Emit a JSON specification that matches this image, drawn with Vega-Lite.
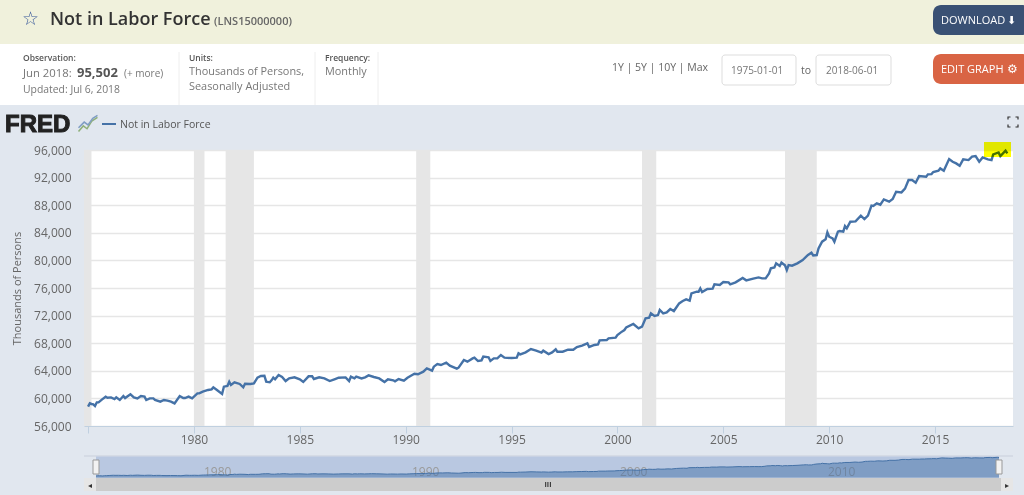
{"$schema":"https://vega.github.io/schema/vega-lite/v6.json","autosize":"none","width":929,"height":276,"padding":{"left":84,"top":150,"right":11,"bottom":69},"background":"#e1e7ef","view":{"fill":"#ffffff","stroke":null},"config":{"font":"Open Sans","text":{"font":"Open Sans","align":"left","baseline":"alphabetic"}},
"datasets":{"series":[
{"date":"1975-01","value":58800},{"date":"1975-02","value":59280},{"date":"1975-03","value":59190},{"date":"1975-04","value":59140},{"date":"1975-05","value":58900},{"date":"1975-06","value":59430},{"date":"1975-07","value":59430},{"date":"1975-09","value":59860},{"date":"1975-11","value":60250},{"date":"1975-12","value":60100},
{"date":"1976-02","value":60150},{"date":"1976-04","value":59910},{"date":"1976-05","value":60150},{"date":"1976-07","value":59770},{"date":"1976-09","value":60350},{"date":"1976-10","value":60050},
{"date":"1977-01","value":60590},{"date":"1977-03","value":60150},{"date":"1977-05","value":60000},{"date":"1977-07","value":60350},{"date":"1977-09","value":60250},{"date":"1977-10","value":59770},{"date":"1977-12","value":60000},
{"date":"1978-02","value":60000},{"date":"1978-03","value":59770},{"date":"1978-06","value":59530},{"date":"1978-08","value":59770},{"date":"1978-10","value":59670},{"date":"1978-12","value":59530},
{"date":"1979-02","value":59280},{"date":"1979-05","value":60350},{"date":"1979-07","value":60050},{"date":"1979-08","value":60050},{"date":"1979-10","value":60250},{"date":"1979-12","value":60000},
{"date":"1980-03","value":60730},{"date":"1980-04","value":60730},{"date":"1980-06","value":60970},{"date":"1980-09","value":61220},{"date":"1980-11","value":61310},{"date":"1980-12","value":61600},
{"date":"1981-02","value":61220},{"date":"1981-05","value":60640},{"date":"1981-06","value":61700},{"date":"1981-08","value":61800},{"date":"1981-09","value":62420},{"date":"1981-10","value":61940},{"date":"1981-12","value":62330},
{"date":"1982-03","value":62090},{"date":"1982-05","value":61600},{"date":"1982-06","value":62130},{"date":"1982-09","value":62090},{"date":"1982-11","value":62180},
{"date":"1983-01","value":63000},{"date":"1983-03","value":63245},{"date":"1983-05","value":63290},{"date":"1983-06","value":62420},{"date":"1983-08","value":62330},{"date":"1983-09","value":62620},{"date":"1983-10","value":63000},{"date":"1983-11","value":62760},
{"date":"1984-01","value":63390},{"date":"1984-03","value":63100},{"date":"1984-05","value":62520},{"date":"1984-07","value":62900},{"date":"1984-10","value":63050},
{"date":"1985-01","value":62760},{"date":"1985-03","value":62380},{"date":"1985-06","value":63200},{"date":"1985-08","value":63200},{"date":"1985-09","value":62810},{"date":"1985-12","value":63050},
{"date":"1986-03","value":62900},{"date":"1986-06","value":62520},{"date":"1986-09","value":62810},{"date":"1986-11","value":63000},
{"date":"1987-03","value":63050},{"date":"1987-05","value":62520},{"date":"1987-06","value":63150},{"date":"1987-08","value":62900},{"date":"1987-09","value":63150},{"date":"1987-12","value":62900},
{"date":"1988-02","value":63050},{"date":"1988-04","value":63340},{"date":"1988-07","value":63100},{"date":"1988-10","value":62900},
{"date":"1989-01","value":62380},{"date":"1989-03","value":62760},{"date":"1989-06","value":62620},{"date":"1989-07","value":62470},{"date":"1989-09","value":62810},{"date":"1989-12","value":62570},
{"date":"1990-02","value":63000},{"date":"1990-04","value":63290},{"date":"1990-06","value":63580},{"date":"1990-08","value":63500},{"date":"1990-11","value":63870},
{"date":"1991-01","value":64360},{"date":"1991-04","value":64020},{"date":"1991-05","value":64600},{"date":"1991-07","value":64980},{"date":"1991-09","value":64840},{"date":"1991-12","value":65180},
{"date":"1992-02","value":64740},{"date":"1992-06","value":64310},{"date":"1992-07","value":64450},{"date":"1992-10","value":65560},{"date":"1992-12","value":65320},
{"date":"1993-03","value":65800},{"date":"1993-04","value":65900},{"date":"1993-06","value":65420},{"date":"1993-08","value":65510},{"date":"1993-09","value":66050},{"date":"1993-12","value":65950},
{"date":"1994-01","value":65420},{"date":"1994-03","value":65800},{"date":"1994-05","value":65800},{"date":"1994-07","value":66290},{"date":"1994-09","value":65900},
{"date":"1995-01","value":65850},{"date":"1995-04","value":65900},{"date":"1995-05","value":66530},{"date":"1995-06","value":66380},{"date":"1995-09","value":66670},{"date":"1995-12","value":67160},
{"date":"1996-03","value":66920},{"date":"1996-06","value":66630},{"date":"1996-07","value":66920},{"date":"1996-10","value":66430},{"date":"1996-12","value":66670},
{"date":"1997-02","value":67110},{"date":"1997-03","value":66770},{"date":"1997-06","value":66770},{"date":"1997-09","value":67060},{"date":"1997-12","value":67060},
{"date":"1998-02","value":67450},{"date":"1998-05","value":67640},{"date":"1998-08","value":67980},{"date":"1998-09","value":67450},{"date":"1998-12","value":67740},
{"date":"1999-02","value":67830},{"date":"1999-03","value":68410},{"date":"1999-07","value":68460},{"date":"1999-08","value":68700},{"date":"1999-12","value":68800},
{"date":"2000-01","value":69190},{"date":"2000-03","value":69570},{"date":"2000-05","value":69910},{"date":"2000-06","value":70300},{"date":"2000-10","value":70780},
{"date":"2001-01","value":70150},{"date":"2001-03","value":70400},{"date":"2001-05","value":71600},{"date":"2001-07","value":71700},{"date":"2001-08","value":72320},{"date":"2001-10","value":71940},{"date":"2001-12","value":72080},
{"date":"2002-01","value":72810},{"date":"2002-03","value":72320},{"date":"2002-05","value":72470},{"date":"2002-07","value":72950},{"date":"2002-09","value":72660},{"date":"2002-12","value":73770},
{"date":"2003-02","value":74110},{"date":"2003-04","value":74350},{"date":"2003-06","value":74160},{"date":"2003-07","value":75220},{"date":"2003-10","value":75460},{"date":"2003-11","value":75460},{"date":"2003-12","value":75950},
{"date":"2004-01","value":75420},{"date":"2004-04","value":75850},{"date":"2004-07","value":75900},{"date":"2004-08","value":76530},{"date":"2004-11","value":76430},
{"date":"2005-01","value":76870},{"date":"2005-04","value":76820},{"date":"2005-05","value":76530},{"date":"2005-08","value":76820},{"date":"2005-12","value":77450},
{"date":"2006-02","value":77110},{"date":"2006-06","value":77350},{"date":"2006-09","value":77540},{"date":"2006-11","value":77400},
{"date":"2007-01","value":77400},{"date":"2007-03","value":78120},{"date":"2007-04","value":78850},{"date":"2007-06","value":78990},{"date":"2007-07","value":79570},{"date":"2007-09","value":79180},{"date":"2007-10","value":79670},{"date":"2007-12","value":79280},
{"date":"2008-01","value":78600},{"date":"2008-02","value":79330},{"date":"2008-04","value":79230},{"date":"2008-07","value":79570},{"date":"2008-10","value":80050},
{"date":"2009-01","value":80800},{"date":"2009-03","value":81115},{"date":"2009-04","value":80730},{"date":"2009-06","value":80780},{"date":"2009-07","value":81740},{"date":"2009-09","value":82710},{"date":"2009-11","value":83050},{"date":"2009-12","value":84060},
{"date":"2010-01","value":83430},{"date":"2010-03","value":83190},{"date":"2010-04","value":82710},{"date":"2010-06","value":84160},{"date":"2010-07","value":84250},{"date":"2010-09","value":84160},{"date":"2010-10","value":84980},{"date":"2010-11","value":84640},
{"date":"2011-01","value":85610},{"date":"2011-04","value":85660},{"date":"2011-07","value":86480},{"date":"2011-09","value":85990},{"date":"2011-11","value":86480},
{"date":"2012-01","value":87930},{"date":"2012-02","value":87880},{"date":"2012-04","value":88260},{"date":"2012-06","value":88070},{"date":"2012-08","value":88840},{"date":"2012-11","value":88510},
{"date":"2013-01","value":88890},{"date":"2013-03","value":89950},{"date":"2013-06","value":89860},{"date":"2013-08","value":90400},{"date":"2013-10","value":91645},{"date":"2013-12","value":91645},
{"date":"2014-02","value":91260},{"date":"2014-04","value":92220},{"date":"2014-08","value":92130},{"date":"2014-09","value":92470},{"date":"2014-11","value":92510},{"date":"2014-12","value":92800},
{"date":"2015-03","value":93000},{"date":"2015-04","value":93330},{"date":"2015-06","value":93000},{"date":"2015-09","value":94690},{"date":"2015-11","value":94300},
{"date":"2016-01","value":94060},{"date":"2016-03","value":93720},{"date":"2016-05","value":94640},{"date":"2016-08","value":94540},{"date":"2016-10","value":95030},{"date":"2016-12","value":95120},
{"date":"2017-02","value":94300},{"date":"2017-04","value":94930},{"date":"2017-07","value":94640},{"date":"2017-09","value":94540},{"date":"2017-10","value":95370},
{"date":"2018-01","value":95650},{"date":"2018-02","value":95120},{"date":"2018-05","value":95900},{"date":"2018-06","value":95502}
],
"recessions":[{"start":"1974-10-23","end":"1975-03-01"},{"start":"1980-01-01","end":"1980-07-01"},{"start":"1981-07-01","end":"1982-11-01"},{"start":"1990-07-01","end":"1991-03-01"},{"start":"2001-03-01","end":"2001-11-01"},{"start":"2007-12-01","end":"2009-06-01"}]},
"resolve":{"scale":{"x":"independent","y":"independent"},"axis":{"x":"independent","y":"independent"}},
"layer":[
{"data":{"values":[{"label":""}]},"layer":[
{"mark":{"type":"rect","color":"#f0f1dc"},"encoding":{"x":{"datum":0,"axis":null,"scale":{"domain":[0,1024],"range":[-84,940],"nice":false,"zero":false}},"x2":{"datum":1024},"y":{"datum":0,"axis":null,"scale":{"domain":[0,495],"range":[-150,345],"nice":false,"zero":false}},"y2":{"datum":44}}},
{"mark":{"type":"rect","color":"#ffffff"},"encoding":{"x":{"datum":0,"axis":null},"x2":{"datum":1024},"y":{"datum":44,"axis":null},"y2":{"datum":105}}},
{"mark":{"type":"rule","color":"#eeeeee"},"encoding":{"x":{"datum":179,"axis":null},"y":{"datum":52,"axis":null},"y2":{"datum":105}}},
{"mark":{"type":"rule","color":"#eeeeee"},"encoding":{"x":{"datum":315,"axis":null},"y":{"datum":52,"axis":null},"y2":{"datum":105}}},
{"mark":{"type":"rule","color":"#eeeeee"},"encoding":{"x":{"datum":378,"axis":null},"y":{"datum":52,"axis":null},"y2":{"datum":105}}},
{"mark":{"type":"rect","color":"#3a5174","cornerRadius":8},"encoding":{"x":{"datum":933,"axis":null},"x2":{"datum":1030},"y":{"datum":5,"axis":null},"y2":{"datum":35}}},
{"mark":{"type":"rect","color":"#d96444","cornerRadius":8},"encoding":{"x":{"datum":933,"axis":null},"x2":{"datum":1030},"y":{"datum":54,"axis":null},"y2":{"datum":84}}},
{"mark":{"type":"rect","color":"#ffffff","stroke":"#dddddd","cornerRadius":3},"encoding":{"x":{"datum":722,"axis":null},"x2":{"datum":796},"y":{"datum":55,"axis":null},"y2":{"datum":85}}},
{"mark":{"type":"rect","color":"#ffffff","stroke":"#dddddd","cornerRadius":3},"encoding":{"x":{"datum":816,"axis":null},"x2":{"datum":891},"y":{"datum":55,"axis":null},"y2":{"datum":85}}},
{"mark":{"type":"rule","color":"#4572a7","strokeWidth":2},"encoding":{"x":{"datum":102,"axis":null},"x2":{"datum":116},"y":{"datum":124,"axis":null}}},
{"mark":{"type":"point","shape":"M-1,0.8L-0.5,0.2L-0.1,0.5L0.4,-0.3L1,-0.7","filled":false,"stroke":"#8fb07a","strokeWidth":1.5,"size":360,"opacity":1},"encoding":{"x":{"datum":88,"axis":null},"y":{"datum":124,"axis":null}}},
{"mark":{"type":"point","shape":"M-1,0.4L-0.4,-0.2L0,0.1L0.5,-0.6L1,-0.9","filled":false,"stroke":"#7f9dc4","strokeWidth":1.5,"size":360,"opacity":1},"encoding":{"x":{"datum":88,"axis":null},"y":{"datum":124,"axis":null}}},
{"mark":{"type":"point","shape":"M-1,-0.5V-1H-0.5M0.5,-1H1V-0.5M1,0.5V1H0.5M-0.5,1H-1V0.5","filled":false,"stroke":"#333333","strokeWidth":1.2,"size":100,"opacity":1},"encoding":{"x":{"datum":1013,"axis":null},"y":{"datum":122,"axis":null}}},
{"mark":{"type":"rect","color":"#c0c8d4","opacity":0.7},"encoding":{"x":{"datum":84,"axis":null},"x2":{"datum":1013},"y":{"datum":455.5,"axis":null},"y2":{"datum":456.5}}},
{"mark":{"type":"rect","color":"#b9c8e1"},"encoding":{"x":{"datum":96,"axis":null},"x2":{"datum":999},"y":{"datum":456.5,"axis":null},"y2":{"datum":478}}},
{"mark":{"type":"rect","color":"#cccccc"},"encoding":{"x":{"datum":84,"axis":null},"x2":{"datum":1013},"y":{"datum":478,"axis":null},"y2":{"datum":491}}},
{"mark":{"type":"rect","color":"#e6e6e6"},"encoding":{"x":{"datum":84,"axis":null},"x2":{"datum":96},"y":{"datum":478,"axis":null},"y2":{"datum":491}}},
{"mark":{"type":"rect","color":"#e6e6e6"},"encoding":{"x":{"datum":1001,"axis":null},"x2":{"datum":1013},"y":{"datum":478,"axis":null},"y2":{"datum":491}}}
]},
{"data":{"name":"series"},"layer":[
{"data":{"name":"recessions"},"mark":{"type":"rect","color":"#e6e6e6"},"encoding":{"x":{"field":"start","type":"temporal","scale":{"type":"utc","domain":["1974-10-23","2018-09-07"],"nice":false},"axis":{"title":null,"grid":false,"tickCount":{"interval":"year","step":5},"format":"%Y","formatType":"utc","labelExpr":"utcyear(datum.value)==1975?'':utcFormat(datum.value,'%Y')","tickColor":"#c0d0e0","tickSize":7,"domainColor":"#c0d0e0","labelColor":"#666666","labelFontSize":12,"labelPadding":1,"labelFont":"Open Sans"}},"x2":{"field":"end"}}},
{"mark":{"type":"line","color":"#4572a7","strokeWidth":2.4},"encoding":{"x":{"field":"date","type":"temporal"},"y":{"field":"value","type":"quantitative","scale":{"domain":[56000,96000],"nice":false,"zero":false},"axis":{"title":"Thousands of Persons","titleFontWeight":"normal","titleColor":"#666666","titleFontSize":11,"titleFont":"Open Sans","titleX":-62,"titleY":138,"values":[56000,60000,64000,68000,72000,76000,80000,84000,88000,92000,96000],"format":",d","grid":true,"gridColor":"#e6e6e6","gridWidth":1.5,"ticks":false,"domain":false,"labelColor":"#666666","labelFontSize":12,"labelPadding":13,"labelFont":"Open Sans"}}}}
]},
{"data":{"values":[{"label":""}]},"layer":[
{"mark":{"type":"rect","color":"#ffff00","blend":"multiply"},"encoding":{"x":{"datum":984,"axis":null,"scale":{"domain":[0,1024],"range":[-84,940],"nice":false,"zero":false}},"x2":{"datum":1011},"y":{"datum":142,"axis":null,"scale":{"domain":[0,495],"range":[-150,345],"nice":false,"zero":false}},"y2":{"datum":157}}},
{"data":{"values":[{"label":"☆"}]},"mark":{"type":"text","font":"DejaVu Sans","fontSize":19,"fontWeight":"bold","color":"#3a5a9a"},"encoding":{"x":{"datum":22,"axis":null},"y":{"datum":25,"axis":null},"text":{"field":"label"}}},
{"data":{"values":[{"label":"Not in Labor Force"}]},"mark":{"type":"text","fontSize":18,"fontWeight":600,"color":"#333333"},"encoding":{"x":{"datum":50,"axis":null},"y":{"datum":25,"axis":null},"text":{"field":"label"}}},
{"data":{"values":[{"label":"(LNS15000000)"}]},"mark":{"type":"text","fontSize":11,"fontWeight":600,"color":"#666666"},"encoding":{"x":{"datum":214,"axis":null},"y":{"datum":25,"axis":null},"text":{"field":"label"}}},
{"data":{"values":[{"label":"DOWNLOAD"}]},"mark":{"type":"text","fontSize":11,"color":"#ffffff"},"encoding":{"x":{"datum":941,"axis":null},"y":{"datum":24,"axis":null},"text":{"field":"label"}}},
{"data":{"values":[{"label":"⬇"}]},"mark":{"type":"text","font":"DejaVu Sans","fontSize":11,"color":"#ffffff"},"encoding":{"x":{"datum":1007,"axis":null},"y":{"datum":24,"axis":null},"text":{"field":"label"}}},
{"data":{"values":[{"label":"EDIT GRAPH"}]},"mark":{"type":"text","fontSize":11,"color":"#ffffff"},"encoding":{"x":{"datum":941,"axis":null},"y":{"datum":73,"axis":null},"text":{"field":"label"}}},
{"data":{"values":[{"label":"⚙"}]},"mark":{"type":"text","font":"DejaVu Sans","fontSize":12,"color":"#ffffff"},"encoding":{"x":{"datum":1007,"axis":null},"y":{"datum":73,"axis":null},"text":{"field":"label"}}},
{"data":{"values":[{"label":"Observation:"}]},"mark":{"type":"text","fontSize":8.5,"fontWeight":600,"color":"#555555"},"encoding":{"x":{"datum":23,"axis":null},"y":{"datum":61,"axis":null},"text":{"field":"label"}}},
{"data":{"values":[{"label":"Jun 2018:"}]},"mark":{"type":"text","fontSize":11.3,"color":"#777777"},"encoding":{"x":{"datum":23,"axis":null},"y":{"datum":77,"axis":null},"text":{"field":"label"}}},
{"data":{"values":[{"label":"95,502"}]},"mark":{"type":"text","fontSize":13,"fontWeight":700,"color":"#555555"},"encoding":{"x":{"datum":77,"axis":null},"y":{"datum":77,"axis":null},"text":{"field":"label"}}},
{"data":{"values":[{"label":"(+ more)"}]},"mark":{"type":"text","fontSize":10,"color":"#777777"},"encoding":{"x":{"datum":124,"axis":null},"y":{"datum":77,"axis":null},"text":{"field":"label"}}},
{"data":{"values":[{"label":"Updated: Jul 6, 2018"}]},"mark":{"type":"text","fontSize":10.4,"color":"#777777"},"encoding":{"x":{"datum":23,"axis":null},"y":{"datum":93,"axis":null},"text":{"field":"label"}}},
{"data":{"values":[{"label":"Units:"}]},"mark":{"type":"text","fontSize":8.5,"fontWeight":600,"color":"#555555"},"encoding":{"x":{"datum":189,"axis":null},"y":{"datum":61,"axis":null},"text":{"field":"label"}}},
{"data":{"values":[{"label":"Thousands of Persons,"}]},"mark":{"type":"text","fontSize":10.9,"color":"#777777"},"encoding":{"x":{"datum":189,"axis":null},"y":{"datum":75,"axis":null},"text":{"field":"label"}}},
{"data":{"values":[{"label":"Seasonally Adjusted"}]},"mark":{"type":"text","fontSize":10.9,"color":"#777777"},"encoding":{"x":{"datum":189,"axis":null},"y":{"datum":90,"axis":null},"text":{"field":"label"}}},
{"data":{"values":[{"label":"Frequency:"}]},"mark":{"type":"text","fontSize":8.5,"fontWeight":600,"color":"#555555"},"encoding":{"x":{"datum":325,"axis":null},"y":{"datum":61,"axis":null},"text":{"field":"label"}}},
{"data":{"values":[{"label":"Monthly"}]},"mark":{"type":"text","fontSize":10.9,"color":"#777777"},"encoding":{"x":{"datum":325,"axis":null},"y":{"datum":75,"axis":null},"text":{"field":"label"}}},
{"data":{"values":[{"label":"1Y | 5Y | 10Y | Max"}]},"mark":{"type":"text","fontSize":10.5,"color":"#666666"},"encoding":{"x":{"datum":612,"axis":null},"y":{"datum":71,"axis":null},"text":{"field":"label"}}},
{"data":{"values":[{"label":"1975-01-01"}]},"mark":{"type":"text","fontSize":10,"color":"#777777"},"encoding":{"x":{"datum":731,"axis":null},"y":{"datum":74,"axis":null},"text":{"field":"label"}}},
{"data":{"values":[{"label":"to"}]},"mark":{"type":"text","fontSize":10.5,"color":"#666666"},"encoding":{"x":{"datum":801,"axis":null},"y":{"datum":74,"axis":null},"text":{"field":"label"}}},
{"data":{"values":[{"label":"2018-06-01"}]},"mark":{"type":"text","fontSize":10,"color":"#777777"},"encoding":{"x":{"datum":826,"axis":null},"y":{"datum":74,"axis":null},"text":{"field":"label"}}},
{"data":{"values":[{"label":"FRED"}]},"mark":{"type":"text","font":"Liberation Sans","fontSize":24,"fontWeight":"bold","color":"#222222","stroke":"#222222","strokeWidth":1},"encoding":{"x":{"datum":5,"axis":null},"y":{"datum":132,"axis":null},"text":{"field":"label"}}},
{"data":{"values":[{"label":"Not in Labor Force"}]},"mark":{"type":"text","fontSize":10.5,"color":"#555555"},"encoding":{"x":{"datum":120,"axis":null},"y":{"datum":128,"axis":null},"text":{"field":"label"}}},
{"data":{"values":[{"label":"1980"}]},"mark":{"type":"text","fontSize":12,"color":"#999999"},"encoding":{"x":{"datum":204,"axis":null},"y":{"datum":476,"axis":null},"text":{"field":"label"}}},
{"data":{"values":[{"label":"1990"}]},"mark":{"type":"text","fontSize":12,"color":"#999999"},"encoding":{"x":{"datum":412,"axis":null},"y":{"datum":476,"axis":null},"text":{"field":"label"}}},
{"data":{"values":[{"label":"2000"}]},"mark":{"type":"text","fontSize":12,"color":"#999999"},"encoding":{"x":{"datum":620,"axis":null},"y":{"datum":476,"axis":null},"text":{"field":"label"}}},
{"data":{"values":[{"label":"2010"}]},"mark":{"type":"text","fontSize":12,"color":"#999999"},"encoding":{"x":{"datum":828,"axis":null},"y":{"datum":476,"axis":null},"text":{"field":"label"}}},
{"data":{"values":[{"label":"◂"}]},"mark":{"type":"text","font":"DejaVu Sans","fontSize":8,"color":"#333333","align":"center"},"encoding":{"x":{"datum":90,"axis":null},"y":{"datum":488,"axis":null},"text":{"field":"label"}}},
{"data":{"values":[{"label":"▸"}]},"mark":{"type":"text","font":"DejaVu Sans","fontSize":8,"color":"#333333","align":"center"},"encoding":{"x":{"datum":1007,"axis":null},"y":{"datum":488,"axis":null},"text":{"field":"label"}}},
{"data":{"values":[{"label":"III"}]},"mark":{"type":"text","fontSize":7,"color":"#333333","align":"center","fontWeight":700},"encoding":{"x":{"datum":548,"axis":null},"y":{"datum":487,"axis":null},"text":{"field":"label"}}}
]},
{"data":{"name":"series"},"layer":[
{"mark":{"type":"area","color":"#4572a7","opacity":0.5},"encoding":{"x":{"field":"date","type":"temporal","axis":null,"scale":{"type":"utc","domain":["1975-01-01","2018-06-01"],"range":[12,915],"nice":false}},"y":{"field":"value","type":"quantitative","axis":null,"scale":{"domain":[55800,95500],"range":[327.5,307.5],"nice":false,"zero":false}},"y2":{"datum":55800}}},
{"mark":{"type":"line","color":"#4572a7","strokeWidth":1},"encoding":{"x":{"field":"date","type":"temporal","axis":null},"y":{"field":"value","type":"quantitative","axis":null}}}
]},
{"data":{"values":[{"label":""}]},"layer":[
{"mark":{"type":"rect","color":"#f2f2f2","stroke":"#999999"},"encoding":{"x":{"datum":93,"axis":null,"scale":{"domain":[0,1024],"range":[-84,940],"nice":false,"zero":false}},"x2":{"datum":99},"y":{"datum":460,"axis":null,"scale":{"domain":[0,495],"range":[-150,345],"nice":false,"zero":false}},"y2":{"datum":474}}},
{"mark":{"type":"rect","color":"#f2f2f2","stroke":"#999999"},"encoding":{"x":{"datum":996,"axis":null},"x2":{"datum":1002},"y":{"datum":460,"axis":null},"y2":{"datum":474}}}
]}
]}
